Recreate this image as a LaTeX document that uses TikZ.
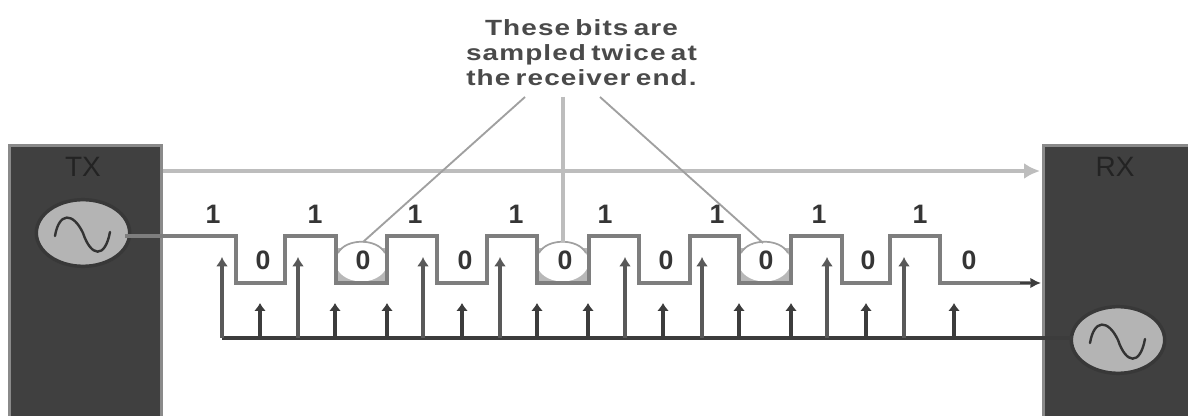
\documentclass[tikz,border=0pt]{standalone}
\usepackage{fontspec}
\setmainfont{Liberation Sans}
\newfontfamily\notefont[FakeStretch=1.27,LetterSpace=5,WordSpace=0.6]{Liberation Sans}
\usetikzlibrary{arrows.meta,shapes.geometric}
\definecolor{boxc}{HTML}{404040}
\definecolor{boxedge}{HTML}{8A8A8A}
\definecolor{oscc}{HTML}{B4B4B4}
\definecolor{sigc}{HTML}{7E7E7E}
\definecolor{clkc}{HTML}{3C3C3C}
\definecolor{txtc}{HTML}{4A4A4A}
\definecolor{labc}{HTML}{353535}
\definecolor{syncc}{HTML}{BDBDBD}
\definecolor{leadc}{HTML}{A0A0A0}
\definecolor{cornerc}{HTML}{B8B8B8}
\tikzset{
  unitbox/.style={draw=boxedge,fill=boxc,line width=2.2pt,inner sep=0pt,minimum height=205pt,anchor=north west},
  unitlab/.style={font=\fontsize{21}{21}\selectfont,text=black!45!boxc,inner sep=0pt},
  osc/.style={ellipse,draw=black!78,fill=oscc,line width=2.6pt,minimum width=70pt,minimum height=50pt,inner sep=0pt},
  bitlab/.style={font=\bfseries\fontsize{20}{20}\selectfont,text=labc,inner sep=0pt},
  siglin/.style={draw=sigc,line width=3pt,line join=miter},
  clkbus/.style={draw=clkc,line width=3pt},
  tall/.style={draw=clkc!85!white,line width=3pt,-{Latex[length=7pt,width=9pt]}},
  short/.style={draw=clkc,line width=2.6pt,-{Latex[length=6pt,width=9pt]}},
  lead/.style={draw=leadc,line width=1.4pt},
  waveline/.style={draw=black!80,line width=1.8pt,line cap=round},
  note/.style={align=center,font=\notefont\bfseries\fontsize{16.5}{18.75}\selectfont,text=txtc,inner sep=0pt},
}
\begin{document}
\begin{tikzpicture}[x=0.75pt,y=-0.75pt]
\useasboundingbox (0,0) rectangle (1188,416);
\fill[white] (0,0) rectangle (1188,416);

% halo behind the sampled bits
\foreach \xl in {336,537,739}{
  \fill[cornerc] (\xl,248) rectangle (\xl+51,283);
  \fill[white] (\xl+25.5,262) ellipse (26 and 19.5);
  \draw[leadc,line width=1.3pt] (\xl+2,253) .. controls (\xl+10,238) and (\xl+41,238) .. (\xl+49,253);
}

\node[note] (noteA) at (581.5,53) {These bits are\\sampled twice at\\the receiver end.};

\node[unitbox,minimum width=114pt] (tx) at (8,144) {};
\node[unitbox,minimum width=112pt] (rx) at (1042,144) {};
\node[unitlab] (txl) at (83,167) {TX};
\node[unitlab] (rxl) at (1115,167) {RX};

\node[osc] (txo) at (83,233) {};
\node[osc] (rxo) at (1118,340) {};
\foreach \cx/\cy in {83/233,1118/340}{
  \draw[waveline] (\cx-28,\cy+3) .. controls (\cx-24,\cy-21) and (\cx-10,\cy-21) .. (\cx,\cy)
     .. controls (\cx+8,\cy+24) and (\cx+22,\cy+26) .. (\cx+27,\cy-1);
}

% sync line
\coordinate (syncEnd) at (1040,171);
\draw[draw=syncc,line width=3pt,-{Latex[length=12pt,width=12pt]}] (tx.north east |- syncEnd) -- (syncEnd);

% data signal
\coordinate (sigStart) at (125,236);
\coordinate (sigEnd) at (1041,283);
\draw[siglin] (sigStart) -- (236,236) -- (236,283) -- (285,283) -- (285,236) -- (336,236) -- (336,283)
  -- (387,283) -- (387,236) -- (437,236) -- (437,283) -- (487,283) -- (487,236) -- (537,236) -- (537,283)
  -- (589,283) -- (589,236) -- (639,236) -- (639,283) -- (690,283) -- (690,236) -- (739,236) -- (739,283)
  -- (791,283) -- (791,236) -- (842,236) -- (842,283) -- (890,283) -- (890,236) -- (940,236) -- (940,283)
  -- (1030,283);
\draw[draw=clkc,line width=1.5pt,-{Latex[length=8pt,width=8pt]}] (1020,283) -- (sigEnd);

% leaders
\coordinate (leadA) at (363,242);
\coordinate (leadB) at (563,242);
\coordinate (leadC) at (763,243);
\draw[lead] (525,97) -- (leadA);
\draw[draw=syncc,line width=3pt] (563,97) -- (leadB);
\draw[lead] (600,97) -- (leadC);

% clock
\coordinate (busStart) at (222,338);
\coordinate (busEnd) at (1073,338);
\draw[clkbus] (busEnd) -- (busStart);
\foreach \x in {222,298,423,500,625,702,827,904}{
  \coordinate (t\x) at (\x,338);
  \draw[tall] (t\x) -- (\x,257);
}
\foreach \x in {260,335,387,462,537,588,663,739,791,866,954}{
  \coordinate (s\x) at (\x,338);
  \draw[short] (s\x) -- (\x,303);
}

% bit labels
\foreach \x in {213,315,415,516,605,717,819,920}{
  \node[bitlab] (one\x) at (\x,214) {1};
}
\foreach \x in {263,363,465,565,666,766,868,969}{
  \node[bitlab] (zero\x) at (\x,260) {0};
}
\end{tikzpicture}
\end{document}
